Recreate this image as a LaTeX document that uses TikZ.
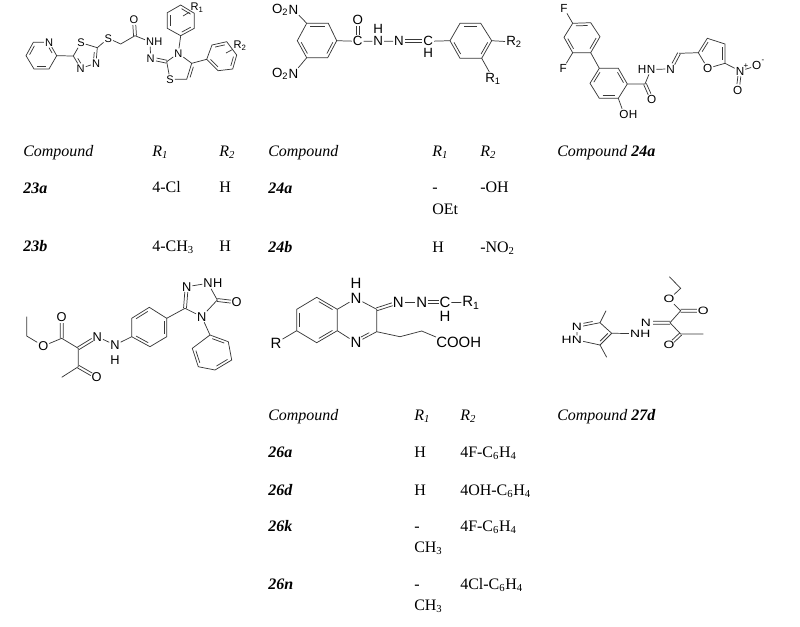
\documentclass[tikz,border=0pt]{standalone}
\usepackage{fontspec}
\setmainfont{Liberation Serif}
\setsansfont{Liberation Sans}
\usetikzlibrary{calc}
\newcommand\dbond[3][.17]{\draw[bond] ($(#2)!#1!(#3)!2pt!90:(#3)$) -- ($(#3)!#1!(#2)!2pt!-90:(#2)$);}
% two parallel strokes: from node a to node b, cut back by the given fractions
\newcommand\dd[4]{%
  \draw[bond] ($(#1)!#3!(#2)!1.1pt!90:(#2)$) -- ($(#2)!#4!(#1)!1.1pt!-90:(#1)$);
  \draw[bond] ($(#1)!#3!(#2)!1.1pt!-90:(#2)$) -- ($(#2)!#4!(#1)!1.1pt!90:(#1)$);}
\newcommand\wide[1]{\scalebox{1.3}[1]{#1}}
\tikzset{
  x=.75pt,y=-.75pt,
  bond/.style={draw=black!78,line width=.55pt},
  atom/.style={inner sep=.6pt,text=black},
  a1/.style={atom,font=\fontsize{8.3}{9}\sffamily},
  a2/.style={atom,font=\fontsize{10}{11}\sffamily},
  a3/.style={atom,font=\fontsize{8.8}{10}\sffamily},
  a4/.style={atom,font=\fontsize{9.6}{11}\sffamily},
  a5/.style={atom,font=\fontsize{11.2}{13}\sffamily},
  a6/.style={atom,font=\fontsize{8}{9}\sffamily},
  afterN/.style={anchor=west,inner sep=0pt,xshift=-.7pt},
  beforeN/.style={anchor=east,inner sep=0pt,xshift=.7pt},
  tx/.style={anchor=base west,inner sep=0pt,font=\fontsize{12}{14}\rmfamily},
  it/.style={tx,font=\fontsize{12}{14}\rmfamily\itshape},
  bi/.style={tx,font=\fontsize{12}{14}\rmfamily\bfseries\itshape},
}
\begin{document}
\begin{tikzpicture}
\useasboundingbox (0,0) rectangle (800,626);
% ---------- compound 23
\node[a1] (pN) at (49,42.3) {N};
\coordinate (p1) at (33.3,42.3);
\coordinate (p2) at (26,55.7);
\coordinate (p3) at (34,69);
\coordinate (p4) at (49,69);
\coordinate (p5) at (56.7,55.7);
\draw[bond] (pN)--(p1)--(p2)--(p3)--(p4)--(p5)--(pN);
\dbond{p1}{p2}\dbond{p3}{p4}\dbond[.3]{p5}{pN}
\coordinate (d1) at (73.3,56);
\node[a1] (dS) at (81,42.7) {S};
\coordinate (d2) at (97.3,47.7);
\node[a1] (dN1) at (96,63.3) {N};
\node[a1] (dN2) at (80.7,68.3) {N};
\draw[bond] (p5)--(d1)--(dS)--(d2)--(dN1)--(dN2)--(d1);
\dbond[.3]{d1}{dN2}\dbond[.3]{dN1}{d2}
\node[a1] (lS) at (108.3,38.3) {S};
\coordinate (lc) at (120.7,44);
\coordinate (lco) at (135,35.7);
\node[a1] (lO) at (134,20) {O};
\node[a1] (lNH) at (150,41.7) {N};
\node[a1,afterN] (lH) at (lNH.east) {H};
\node[a1] (lN) at (150.7,58.3) {N};
\draw[bond] (d2)--(lS)--(lc)--(lco)--(lNH)--(lN);
\dd{lco}{lO}{0}{.32}
\coordinate (t2) at (166.7,61.7);
\node[a1] (tN) at (178.3,53.3) {N};
\coordinate (t4) at (191.7,63.3);
\coordinate (t5) at (186.7,79.3);
\node[a1] (tS) at (170,79.3) {S};
\dd{lN}{t2}{.35}{0}
\draw[bond] (t2)--(tN)--(t4)--(t5)--(tS)--(t2);
\dbond{t4}{t5}
\coordinate (r1) at (180.7,35.7);
\coordinate (r2) at (194.3,28.3);
\coordinate (r3) at (194.3,13.3);
\coordinate (r4) at (180.7,5);
\coordinate (r5) at (167.3,12.7);
\coordinate (r6) at (167.3,28.3);
\draw[bond] (tN)--(r1)--(r2)--(r3)--(r4)--(r5)--(r6)--(r1);
\dbond{r5}{r6}\dbond{r1}{r2}\dbond{r3}{r4}
\node[a1] (R1a) at (197,7.5) {R\textsubscript{1}};
\coordinate (r0) at (183,16);
\draw[bond] (r0)--(R1a);
\coordinate (s1) at (206.7,59.3);
\coordinate (s2) at (218,70.7);
\coordinate (s3) at (232.7,69);
\coordinate (s4) at (236.7,55);
\coordinate (s5) at (226.7,41.7);
\coordinate (s6) at (212,45);
\draw[bond] (t4)--(s1)--(s2)--(s3)--(s4)--(s5)--(s6)--(s1);
\dbond{s1}{s2}\dbond{s3}{s4}\dbond{s5}{s6}
\node[a1] (R2a) at (240,45.5) {R\textsubscript{2}};
\coordinate (s0) at (226,53);
\draw[bond] (s0)--(R2a);
% ---------- compound 24
\coordinate (u1) at (306.7,23.3);
\coordinate (u2) at (297.3,40.7);
\coordinate (u3) at (306.7,57.7);
\coordinate (u4) at (327.7,57.7);
\coordinate (u5) at (336.7,40.7);
\coordinate (u6) at (328.3,23.3);
\draw[bond] (u1)--(u2)--(u3)--(u4)--(u5)--(u6)--(u1);
\dbond{u2}{u3}\dbond{u4}{u5}\dbond{u6}{u1}
\node[a2] (uN1) at (293.5,9.5) {N};
\node[a2,beforeN] (uO1) at (uN1.west) {O\textsubscript{2}};
\node[a2] (uN2) at (293.5,73.5) {N};
\node[a2,beforeN] (uO2) at (uN2.west) {O\textsubscript{2}};
\draw[bond] (u1)--(uN1) (u3)--(uN2);
\node[a2] (uC) at (357.7,41.3) {C};
\node[a2] (uO) at (357.7,20) {O};
\node[a2] (uN3) at (378.3,41.3) {N};
\node[a2] (uH1) at (378.3,29.3) {H};
\node[a2] (uN4) at (399,41.3) {N};
\node[a2] (uC2) at (428.3,41.3) {C};
\node[a2] (uH2) at (428.3,53.3) {H};
\draw[bond] (u5)--(uC)--(uN3)--(uN4);
\dd{uC}{uO}{.3}{.3}
\dd{uN4}{uC2}{.2}{.2}
\coordinate (v1) at (450,40.7);
\coordinate (v2) at (460,58.3);
\coordinate (v3) at (481.7,58.3);
\coordinate (v4) at (491.7,40.7);
\coordinate (v5) at (480.7,23.3);
\coordinate (v6) at (460,23.3);
\draw[bond] (uC2)--(v1)--(v2)--(v3)--(v4)--(v5)--(v6)--(v1);
\dbond{v1}{v2}\dbond{v3}{v4}\dbond{v5}{v6}
\node[a2] (R2b) at (514,42) {R\textsubscript{2}};
\node[a2] (R1b) at (493,78.5) {R\textsubscript{1}};
\draw[bond] (v4)--(R2b) (v3)--(R1b);
% ---------- compound 24a (structure)
\coordinate (w1) at (572.7,23.3);
\coordinate (w2) at (564,37.3);
\coordinate (w3) at (572.7,52.7);
\coordinate (w4) at (590.7,52.7);
\coordinate (w5) at (600,36.7);
\coordinate (w6) at (590.7,22.7);
\draw[bond] (w1)--(w2)--(w3)--(w4)--(w5)--(w6)--(w1);
\dbond{w2}{w3}\dbond{w4}{w5}\dbond{w6}{w1}
\node[a3] (wF1) at (564,8.3) {F};
\node[a3] (wF2) at (563.3,68.3) {F};
\draw[bond] (w1)--(wF1) (w3)--(wF2);
\coordinate (x1) at (599.3,68.3);
\coordinate (x2) at (590,83.3);
\coordinate (x3) at (599.3,98.3);
\coordinate (x4) at (618.3,98.3);
\coordinate (x5) at (627.3,84);
\coordinate (x6) at (618.3,68.3);
\draw[bond] (w4)--(x1)--(x2)--(x3)--(x4)--(x5)--(x6)--(x1);
\dbond{x1}{x2}\dbond{x3}{x4}\dbond{x5}{x6}
\node[a3] (xO) at (624,114) {O};
\node[a3,afterN] (xH) at (xO.east) {H};
\draw[bond] (x4)--(xO);
\coordinate (xC) at (645,84);
\node[a3] (xO2) at (651.7,99) {O};
\node[a3] (xN1) at (651,69.3) {N};
\node[a3,beforeN] (xH1) at (xN1.west) {H};
\node[a3] (xN2) at (670.7,69) {N};
\coordinate (xCH) at (679,53.3);
\draw[bond] (x5)--(xC)--(xN1)--(xN2);
\dd{xC}{xO2}{0}{.32}
\dd{xN2}{xCH}{.32}{0}
\coordinate (f2) at (698.3,52.7);
\coordinate (f3) at (707.3,38.3);
\coordinate (f4) at (725,44);
\coordinate (f5) at (725,63.3);
\node[a3] (fO) at (707.7,68.3) {O};
\draw[bond] (xCH)--(f2)--(f3)--(f4)--(f5)--(fO)--(f2);
\dbond{f3}{f2}\dbond{f5}{f4}
\node[a3] (fN) at (740,71) {N};
\node[a3,font=\fontsize{6}{7}\sffamily,inner sep=0pt] (fP) at (746,66) {+};
\node[a3] (fO1) at (756.7,65.7) {O};
\node[a3,font=\fontsize{6}{7}\sffamily,inner sep=0pt] (fM) at (763,61.5) {-};
\node[a3] (fO2) at (737.7,90) {O};
\draw[bond] (f5)--(fN)--(fO1);
\dd{fN}{fO2}{.28}{.3}
% ---------- compound 25 (row 2, left)
\coordinate (e1) at (26.7,316.7);
\coordinate (e2) at (26.7,336);
\node[a4] (eO) at (43.3,346) {O};
\coordinate (e3) at (61.7,338.3);
\node[a4] (eO2) at (61.7,317.3) {O};
\coordinate (e4) at (78.3,348.3);
\node[a4] (eN) at (97.3,336.7) {N};
\node[a4] (eN2) at (115,345) {N};
\node[a4] (eH) at (115,360) {H};
\coordinate (e5) at (78.3,366.7);
\node[a4] (eO3) at (96.7,377.3) {O};
\coordinate (e6) at (61.7,377.3);
\draw[bond] (e1)--(e2)--(eO)--(e3)--(e4)--(e5)--(e6);
\dd{e3}{eO2}{0}{.28}
\dd{e4}{eN}{0}{.26}
\dd{e5}{eO3}{0}{.28}
\coordinate (g1) at (131.7,336.7);
\coordinate (g2) at (150,346.7);
\coordinate (g3) at (166.7,336.7);
\coordinate (g4) at (166.7,318.3);
\coordinate (g5) at (149.3,307.3);
\coordinate (g6) at (131.7,318.3);
\draw[bond] (eN)--(eN2)--(g1)--(g2)--(g3)--(g4)--(g5)--(g6)--(g1);
\dbond{g1}{g2}\dbond{g3}{g4}\dbond{g5}{g6}
\coordinate (h1) at (185,308.3);
\node[a4] (hN1) at (186.7,286.7) {N};
\node[a4] (hN2) at (208,283.3) {N};
\node[a4,afterN] (hH) at (hN2.east) {H};
\coordinate (h2) at (217.3,300);
\node[a4] (hO) at (236.7,302.3) {O};
\node[a4] (hN3) at (201.7,316.7) {N};
\draw[bond] (g4)--(h1)--(hN3)--(h2)--(hN2)--(hN1);
\dd{h1}{hN1}{0}{.25}
\dd{h2}{hO}{0}{.3}
\coordinate (k1) at (210,335);
\coordinate (k2) at (192.3,348.3);
\coordinate (k3) at (198.3,366.7);
\coordinate (k4) at (215,370);
\coordinate (k5) at (231.7,360);
\coordinate (k6) at (228.3,341.7);
\draw[bond] (hN3)--(k1)--(k2)--(k3)--(k4)--(k5)--(k6)--(k1);
\dbond{k6}{k1}\dbond{k2}{k3}\dbond{k4}{k5}
% ---------- compound 26
\coordinate (b1) at (316.7,297.3);
\coordinate (b2) at (296.7,309.3);
\coordinate (b3) at (296.7,330.7);
\coordinate (b4) at (316.7,342.7);
\coordinate (b5) at (337.3,330.7);
\coordinate (b6) at (337.3,309.3);
\draw[bond] (b1)--(b2)--(b3)--(b4)--(b5)--(b6)--(b1);
\dbond{b6}{b1}\dbond{b2}{b3}\dbond{b4}{b5}
\node[a5] (bR) at (276,343) {R};
\draw[bond] (b3)--(bR);
\node[a5] (bN1) at (356,298.3) {N};
\node[a5] (bH) at (356,283.3) {H};
\coordinate (c1) at (376.7,309.3);
\coordinate (c2) at (376.7,331.7);
\node[a5] (bN2) at (356,342.7) {N};
\draw[bond] (b6)--(bN1)--(c1)--(c2)--(bN2)--(b5);
\dbond[.3]{bN2}{c2}
\node[a5] (bN3) at (398.3,302.3) {N};
\node[a5] (bN4) at (421.7,302.3) {N};
\node[a5] (bC) at (445,302.3) {C};
\node[a5] (bH2) at (445,316) {H};
\node[a5] (bR1) at (471,302.8) {R\textsubscript{1}};
\dd{c1}{bN3}{0}{.28}
\draw[bond] (bN3)--(bN4);
\dd{bN4}{bC}{.25}{.25}
\draw[bond] (bC)--(bR1);
\coordinate (c3) at (400,336.7);
\coordinate (c4) at (421.7,331);
\node[a5,anchor=north west,inner sep=0pt] (bCO) at (436,337) {COOH};
\draw[bond] (c2)--(c3)--(c4)--(bCO.north west);
% ---------- compound 27d (structure)
\coordinate (q1) at (669.3,276.7);
\coordinate (q2) at (680.7,288.3);
\node[a6] (qO) at (669,299.3) {\wide{O}};
\coordinate (q3) at (680.7,310.7);
\node[a6] (qO2) at (703.3,310.7) {\wide{O}};
\coordinate (q4) at (670,322.7);
\node[a6] (qN) at (646,322.7) {\wide{N}};
\node[a6] (qN2) at (635,333.5) {\wide{N}};
\node[a6,afterN] (qH) at (qN2.east) {\wide{H}};
\coordinate (q5) at (680.7,334);
\node[a6] (qO3) at (669,345) {\wide{O}};
\coordinate (q6) at (703.3,334);
\draw[bond] (q1)--(q2)--(qO)--(q3)--(q4)--(q5)--(q6);
\dd{q3}{qO2}{0}{.28}
\dd{q4}{qN}{0}{.3}
\dd{q5}{qO3}{0}{.33}
\coordinate (y1) at (611.7,333.3);
\coordinate (y2) at (600,322.7);
\node[a6] (yN1) at (577,327.3) {\wide{N}};
\node[a6] (yN2) at (577,340) {\wide{N}};
\node[a6,beforeN] (yH) at (yN2.west) {\wide{H}};
\coordinate (y3) at (600,345);
\coordinate (y4) at (606,310.7);
\coordinate (y5) at (606.7,357.3);
\draw[bond] (qN2)--(y1)--(y2)--(yN1)--(yN2)--(y3)--(y1);
\dbond[.3]{yN1}{y2}\dbond{y3}{y1}
\draw[bond] (y2)--(y4) (y3)--(y5);
% ---------- tables
\node[it] (t01) at (23,156) {Compound};
\node[it] (t02) at (152,156) {R\textsubscript{1}};
\node[it] (t03) at (219,156) {R\textsubscript{2}};
\node[bi] (t04) at (23,193) {23a};
\node[tx] (t05) at (152,192) {4-Cl};
\node[tx] (t06) at (219,192) {H};
\node[bi] (t07) at (23,251) {23b};
\node[tx] (t08) at (152,251) {4-CH\textsubscript{3}};
\node[tx] (t09) at (219,251) {H};
\node[it] (t10) at (268,156) {Compound};
\node[it] (t11) at (432,156) {R\textsubscript{1}};
\node[it] (t12) at (480,156) {R\textsubscript{2}};
\node[bi] (t13) at (268,193) {24a};
\node[tx] (t14) at (432,192) {-};
\node[tx] (t15) at (432,214) {OEt};
\node[tx] (t16) at (480,192) {-OH};
\node[bi] (t17) at (268,252) {24b};
\node[tx] (t18) at (432,252) {H};
\node[tx] (t19) at (480,252) {-NO\textsubscript{2}};
\node[it] (t20) at (557,156) {Compound \textbf{24a}};
\node[it] (t21) at (268,420) {Compound};
\node[it] (t22) at (414,420) {R\textsubscript{1}};
\node[it] (t23) at (460,420) {R\textsubscript{2}};
\node[bi] (t24) at (268,457) {26a};
\node[tx] (t25) at (414,457) {H};
\node[tx] (t26) at (460,457) {4F-C\textsubscript{6}H\textsubscript{4}};
\node[bi] (t27) at (268,495) {26d};
\node[tx] (t28) at (414,495) {H};
\node[tx] (t29) at (460,495) {4OH-C\textsubscript{6}H\textsubscript{4}};
\node[bi] (t30) at (268,531) {26k};
\node[tx] (t31) at (414,531) {-};
\node[tx] (t32) at (414,552) {CH\textsubscript{3}};
\node[tx] (t33) at (460,531) {4F-C\textsubscript{6}H\textsubscript{4}};
\node[bi] (t34) at (268,589) {26n};
\node[tx] (t35) at (414,589) {-};
\node[tx] (t36) at (414,610) {CH\textsubscript{3}};
\node[tx] (t37) at (460,589) {4Cl-C\textsubscript{6}H\textsubscript{4}};
\node[it] (t38) at (557,420) {Compound \textbf{27d}};
\end{tikzpicture}
\end{document}
